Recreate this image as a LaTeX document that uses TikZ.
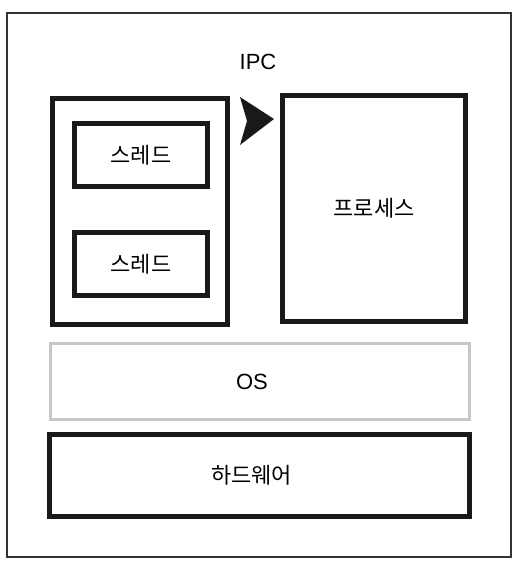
\documentclass[tikz,border=0pt]{standalone}
\usepackage{fontspec}
\setmainfont{Liberation Sans}
\newfontfamily\krfont{Noto Sans CJK KR}
\usetikzlibrary{calc}

\begin{document}
\begin{tikzpicture}[x=1pt,y=-1pt,
	thickbox/.style={draw=black!90,line width=5pt,minimum width=#1},
	thickbox/.default=133pt,
	osbox/.style={draw=black!22,line width=3pt},
	label/.style={font=\fontsize{22}{24}\selectfont\krfont}]
	\useasboundingbox (0,0) rectangle (517,579);
	\draw[black!80,line width=1.4pt] (7,13) rectangle (511,557);
	\node[thickbox=175pt,minimum height=226pt] (thr) at (140,211.5) {};
	\node[thickbox,minimum height=63pt,label] (t1) at (141,155) {스레드};
	\node[thickbox,minimum height=63pt,label] (t2) at (141,264) {스레드};
	\node[thickbox=183pt,minimum height=226pt,label] (proc) at (374,208.5) {프로세스};
	\node[font=\fontsize{22}{24}\selectfont] (ipc) at (258,62) {IPC};
	\fill[black!90] ($(thr.north east)+(10,1)$) -- ($(proc.north west)+(-6,26)$)
		-- ($(thr.north east)+(10,49)$) -- ($(thr.north east)+(17,25)$) -- cycle;
	\node[osbox,minimum width=419pt,minimum height=76pt,font=\fontsize{22}{24}\selectfont] (os) at (260,381.5) {\hspace*{-16pt}OS};
	\node[thickbox=420pt,minimum height=82pt,label] (hw) at (259.5,475.5) {\hspace*{-16pt}하드웨어};
\end{tikzpicture}
\end{document}
